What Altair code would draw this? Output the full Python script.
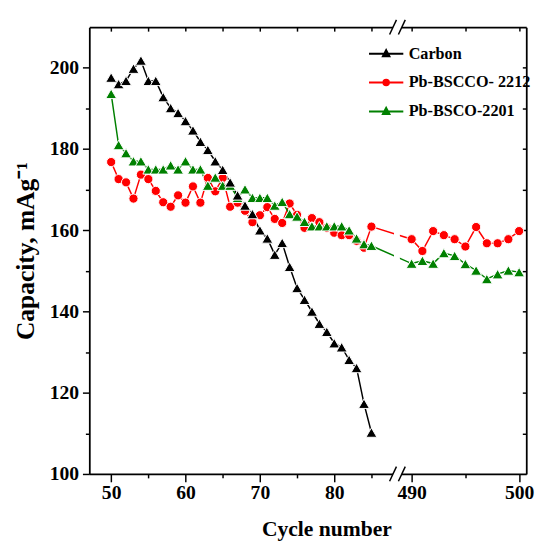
import altair as alt
import pandas as pd

# ---------------- data ----------------
cycles_early = list(range(50, 86))
cycles_late = list(range(490, 501))

carbon = [197.6, 196.0, 196.8, 199.8, 201.8, 196.8, 196.8, 192.8, 190.1, 188.9,
          186.9, 184.6, 181.8, 179.8, 177.0, 174.9, 171.8, 168.6, 166.1, 164.0,
          160.0, 158.0, 154.0, 156.9, 151.0, 145.8, 142.9, 140.0, 137.0, 135.0,
          132.2, 131.2, 128.1, 126.1, 117.3, 110.2]
bscco2212_early = [176.8, 172.6, 171.8, 167.8, 173.7, 172.6, 169.7, 166.9, 165.8, 168.6,
                   166.8, 170.8, 166.8, 172.9, 169.6, 172.9, 165.8, 166.8, 164.8, 162.0,
                   163.7, 165.7, 162.8, 161.8, 166.6, 163.8, 160.6, 163.0, 162.0, 160.6,
                   159.4, 158.8, 158.8, 157.4, 155.7, 160.9]
bscco2212_late = [157.8, 154.9, 159.8, 158.8, 157.8, 156.0, 160.8, 156.8, 156.8, 157.8, 159.8]
bsco2201_early = [193.6, 181.0, 179.0, 177.0, 177.0, 175.0, 175.0, 175.0, 176.0, 175.0,
                  177.0, 175.0, 175.0, 171.0, 173.0, 171.0, 171.0, 168.0, 170.1, 168.0,
                  168.0, 168.0, 166.1, 167.0, 164.0, 163.4, 162.1, 161.0, 161.0, 161.0,
                  161.0, 161.0, 160.0, 158.0, 156.6, 156.2]
bsco2201_late = [151.8, 152.5, 151.8, 154.4, 153.7, 151.7, 150.1, 148.0, 149.2, 150.1, 149.7]

series_names = ["Carbon", "Pb-BSCCO- 2212", "Pb-BSCO-2201"]
series_colors = ["#000000", "#ff0000", "#008000"]

x_ticks_early = [50, 55, 60, 65, 70, 75, 80, 85]
x_ticks_late = [490, 495, 500]
y_ticks = list(range(100, 201, 10))

rows = []
for c, v in zip(cycles_early, carbon):
    rows.append(("Carbon", c, v))
for c, v in zip(cycles_early + cycles_late, bscco2212_early + bscco2212_late):
    rows.append(("Pb-BSCCO- 2212", c, v))
for c, v in zip(cycles_early + cycles_late, bsco2201_early + bsco2201_late):
    rows.append(("Pb-BSCO-2201", c, v))
df = pd.DataFrame(rows, columns=["series", "cycle", "capacity"])

# ---------------- layout (broken x axis) ----------------
FONT = "Liberation Serif"
W, H = 446, 456
P0 = 90.408      # axis position of cycle 490
K = 1.4453       # stretch of the late segment
X_DOMAIN = [47.062, 105.823]
POS_EXPR = f"datum.cycle < 100 ? datum.cycle : {P0} + (datum.cycle - 490) * {K}"

x_tick_pos = x_ticks_early + [P0 + (c - 490) * K for c in x_ticks_late]
CYC = f"(datum.value > 89 ? round(490 + (datum.value - {P0}) / {K}) : round(datum.value))"

x_scale = alt.Scale(domain=X_DOMAIN, nice=False, zero=False)
y_scale = alt.Scale(domain=[100, 210], nice=False, zero=False)
color_scale = alt.Scale(domain=series_names, range=series_colors)

common_axis = dict(domainColor="black", tickColor="black", labelColor="black",
                   titleColor="black", domainWidth=1.8, tickWidth=1.5, zindex=0)

bottom_axis = alt.Axis(
    orient="bottom", values=x_tick_pos,
    labelExpr=f"{CYC} % 10 == 0 ? '' + {CYC} : ''",
    tickSize={"condition": {"test": f"{CYC} % 10 != 0", "value": 4}, "value": 8},
    labelFont=FONT, labelFontSize=20, labelFontWeight="bold", labelPadding=1,
    labelFlush=False, labelOverlap=False,
    title="Cycle number", titleFont=FONT, titleFontSize=22, titleFontWeight="bold",
    titlePadding=17, titleX=242, **common_axis)

left_axis = alt.Axis(
    orient="left", values=y_ticks,
    labelExpr="datum.value % 20 == 0 ? datum.label : ''",
    tickSize={"condition": {"test": "datum.value % 20 != 0", "value": 4}, "value": 7},
    labelFont=FONT, labelFontSize=20, labelFontWeight="bold", labelPadding=4,
    labelOverlap=False,
    title="Capacity, mAg⁻¹", titleFont=FONT, titleFontSize=26, titleFontWeight="bold",
    titlePadding=11, **common_axis)

top_frame_axis = alt.Axis(orient="bottom", offset=-H, values=x_tick_pos, labels=False,
                          title=None, tickSize=4, **common_axis)
right_frame_axis = alt.Axis(orient="left", offset=-W, values=y_ticks[1:], labels=False,
                            title=None, tickSize=4, **common_axis)

base = alt.Chart(df).transform_calculate(pos=POS_EXPR)

lines = base.mark_line(strokeWidth=1.5).encode(
    x=alt.X("pos:Q", scale=x_scale, axis=bottom_axis),
    y=alt.Y("capacity:Q", scale=y_scale, axis=left_axis),
    color=alt.Color("series:N", scale=color_scale, legend=None),
    order="cycle:Q",
)


def points(name, shape, size):
    return base.transform_filter(alt.datum.series == name).mark_point(
        shape=shape, filled=True, size=size, opacity=1, stroke="white", strokeWidth=1.0
    ).encode(
        x=alt.X("pos:Q", scale=x_scale, axis=None),
        y=alt.Y("capacity:Q", scale=y_scale, axis=None),
        color=alt.Color("series:N", scale=color_scale, legend=None),
    )


p_red = points("Pb-BSCCO- 2212", "circle", 88)
p_green = points("Pb-BSCO-2201", "triangle-up", 125)
p_black = points("Carbon", "triangle-up", 125)

# legend: line + marker symbols (legend layer carries the frame axes too)
tri_path = "M-1.75,0L1.75,0M0,-0.36L0.33,0.26L-0.33,0.26Z"
circ_path = "M-1.75,0L1.75,0M0.28,0A0.28,0.28,0,1,1,-0.28,0A0.28,0.28,0,1,1,0.28,0Z"
legend_paths = [tri_path, circ_path, tri_path]
legend_cfg = alt.Legend(orient="none", legendX=292, legendY=16, title=None, padding=0,
                        symbolSize=400, symbolStrokeWidth=2, symbolOpacity=1,
                        labelFont=FONT, labelFontSize=16.5, labelFontWeight="bold",
                        labelColor="black", labelOffset=12, rowPadding=9.5, labelLimit=400)
helper = base.mark_point(filled=True, opacity=0).encode(
    x=alt.X("pos:Q", scale=x_scale, axis=top_frame_axis),
    y=alt.Y("capacity:Q", scale=y_scale, axis=right_frame_axis),
    fill=alt.Fill("series:N", scale=alt.Scale(domain=series_names, range=series_colors),
                  legend=legend_cfg),
    stroke=alt.Stroke("series:N", scale=alt.Scale(domain=series_names, range=series_colors),
                      legend=legend_cfg),
    shape=alt.Shape("series:N", scale=alt.Scale(domain=series_names, range=legend_paths),
                    legend=legend_cfg),
)

# axis-break decorations
one = pd.DataFrame({"k": [0]})


def wbox(x1, y1, x2, y2):
    return alt.Chart(one).mark_rect(color="white").encode(
        x=alt.value(x1), x2=alt.value(x2), y=alt.value(y1), y2=alt.value(y2))


def slash(x1, y1, x2, y2):
    return alt.Chart(one).mark_rule(color="black", strokeWidth=1.5).encode(
        x=alt.value(x1), x2=alt.value(x2), y=alt.value(y1), y2=alt.value(y2))


decor = [
    wbox(310, H - 3, 319, H + 3),
    wbox(310, -3, 319, 3),
    wbox(311, 205, 317, 242),
    slash(306.5, H + 7.5, 313.5, H - 7.5),
    slash(315.5, H + 7.5, 322.5, H - 7.5),
    slash(306.5, 7.5, 313.5, -7.5),
    slash(315.5, 7.5, 322.5, -7.5),
]

chart = alt.layer(helper, lines, p_red, p_green, p_black, *decor).resolve_axis(
    x="independent", y="independent"
).properties(
    width=W, height=H, padding={"left": 5, "top": 5, "right": 5, "bottom": 5}
).configure_view(stroke=None).configure_axis(grid=False)

chart.save("out.html", embed_options={"renderer": "svg", "actions": False})
